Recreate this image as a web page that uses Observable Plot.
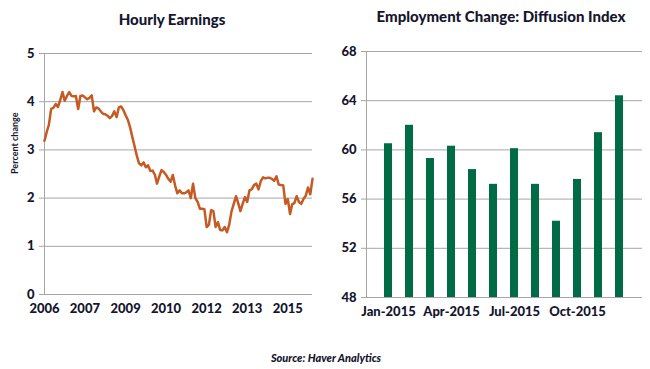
<!DOCTYPE html>
<html>
<head>
<meta charset="utf-8">
<script src="https://cdn.jsdelivr.net/npm/d3@7"></script>
<script src="https://cdn.jsdelivr.net/npm/@observablehq/plot@0.6"></script>
<style>
  body { margin: 0; background: #fff; }
  #root { position: relative; width: 650px; height: 369px; overflow: hidden; font-family: Lato, "Open Sans", sans-serif; color: #15152e; }
  .title { position: absolute; font-weight: 900; font-size: 15px; white-space: nowrap; transform: translate(-50%, -50%); }
  .panel { position: absolute; top: 30px; }
  .source { position: absolute; font-weight: 900; font-style: italic; font-size: 11px; white-space: nowrap; transform: translate(-50%, -50%); left: 326px; top: 357px; }
</style>
</head>
<body>
<div id="root">
  <div class="title" style="left:172px; top:19px;">Hourly Earnings</div>
  <div class="title" style="left:501px; top:16px;">Employment Change: Diffusion Index</div>
  <div class="panel" id="left" style="left:0px;"></div>
  <div class="panel" id="right" style="left:330px;"></div>
  <div class="source">Source: Haver Analytics</div>
</div>
<script>
// ---- Hourly Earnings: monthly % change, Jan 2006 .. Dec 2015 ----
const earningsStart = "2006-01-01";
const earningsValues = [
  3.19, 3.38, 3.52, 3.85, 3.87, 3.95, 3.89, 4.03, 4.20, 4.02, 4.12, 4.20,
  4.12, 4.11, 4.12, 3.85, 4.12, 4.13, 4.09, 4.05, 4.08, 4.13, 3.80, 3.88,
  3.86, 3.80, 3.75, 3.74, 3.71, 3.66, 3.70, 3.80, 3.68, 3.88, 3.90, 3.83,
  3.72, 3.62, 3.48, 3.27, 3.08, 2.88, 2.72, 2.68, 2.74, 2.64, 2.68, 2.56,
  2.57, 2.48, 2.30, 2.45, 2.58, 2.54, 2.48, 2.40, 2.34, 2.48, 2.26, 2.10,
  2.16, 2.10, 2.10, 2.12, 2.16, 2.00, 2.30, 2.00, 1.92, 1.78, 1.78, 1.77,
  1.40, 1.45, 1.75, 1.73, 1.40, 1.50, 1.34, 1.33, 1.40, 1.29, 1.45, 1.72,
  1.88, 2.04, 1.90, 1.73, 1.88, 2.02, 1.92, 2.16, 2.18, 2.27, 2.30, 2.18,
  2.35, 2.43, 2.41, 2.42, 2.42, 2.40, 2.36, 2.45, 2.28, 2.27, 2.26, 1.88,
  1.98, 1.67, 1.87, 1.90, 2.04, 1.92, 1.88, 1.98, 2.05, 2.22, 2.08, 2.40
];
const earningsTickDates = ["2006-01-01", "2007-07-01", "2009-01-01", "2010-07-01", "2012-01-01", "2013-07-01", "2015-01-01"];
const earningsTickLabels = ["2006", "2007", "2009", "2010", "2012", "2013", "2015"];
const earningsYTicks = [0, 1, 2, 3, 4, 5];

// ---- Employment Change: Diffusion Index, 2015 ----
const diffusionMonths = ["Jan-2015", "Feb-2015", "Mar-2015", "Apr-2015", "May-2015", "Jun-2015",
                         "Jul-2015", "Aug-2015", "Sep-2015", "Oct-2015", "Nov-2015", "Dec-2015"];
const diffusionValues = [60.5, 62.0, 59.3, 60.3, 58.4, 57.2, 60.1, 57.2, 54.2, 57.6, 61.4, 64.4];
const diffusionXTicks = ["Jan-2015", "Apr-2015", "Jul-2015", "Oct-2015"];
const diffusionYTicks = [48, 52, 56, 60, 64, 68];

const GRID = "#a6a6a6";
const TEXT = "#15152e";
const LINE = "#c55a22";
const BAR = "#006b45";

const start = new Date(earningsStart);
const months = d3.utcMonth.range(start, d3.utcMonth.offset(start, earningsValues.length));
const earnings = earningsValues.map((v, i) => ({date: months[i], value: v}));
const tickDates = earningsTickDates.map(d => new Date(d));
const labelOf = new Map(tickDates.map((d, i) => [+d, earningsTickLabels[i]]));

const baseStyle = {fontFamily: "Lato, 'Open Sans', sans-serif", fontWeight: "900", fontSize: "13px", color: TEXT, background: "transparent"};

const left = Plot.plot({
  width: 330, height: 300,
  marginLeft: 44, marginRight: 18, marginTop: 23, marginBottom: 36,
  style: baseStyle,
  x: {type: "utc", domain: [months[0], months[months.length - 1]]},
  y: {domain: [0, 5]},
  marks: [
    Plot.gridY(earningsYTicks, {stroke: GRID, strokeOpacity: 1}),
    Plot.ruleX([months[0]], {stroke: GRID}),
    Plot.axisY(earningsYTicks, {tickSize: 5, tickPadding: 5, stroke: GRID, fill: TEXT, label: null}),
    Plot.axisX(tickDates, {tickSize: 0, tickPadding: 9, tickFormat: d => labelOf.get(+d), fill: TEXT, label: null}),
    Plot.text(["Percent change"], {frameAnchor: "left", dx: -29, rotate: -90, fontSize: 9, fontWeight: "bold", fill: TEXT}),
    Plot.line(earnings, {x: "date", y: "value", stroke: LINE, strokeWidth: 2.5, strokeLinejoin: "round"})
  ]
});
document.getElementById("left").appendChild(left);

const diffusion = diffusionMonths.map((m, i) => ({month: m, value: diffusionValues[i]}));

const right = Plot.plot({
  width: 320, height: 300,
  marginLeft: 36, marginRight: 8, marginTop: 21, marginBottom: 33,
  style: baseStyle,
  x: {type: "band", domain: diffusionMonths, padding: 0.6, align: 0.5},
  y: {domain: [48, 68]},
  marks: [
    Plot.gridY(diffusionYTicks, {stroke: GRID, strokeOpacity: 1}),
    Plot.frame({anchor: "left", stroke: GRID}),
    Plot.axisY(diffusionYTicks, {tickSize: 5, tickPadding: 5, stroke: GRID, fill: TEXT, label: null}),
    Plot.axisX(diffusionXTicks, {tickSize: 0, tickPadding: 9, fill: TEXT, label: null}),
    Plot.barY(diffusion, {x: "month", y1: 48, y2: "value", fill: BAR})
  ]
});
document.getElementById("right").appendChild(right);
</script>
</body>
</html>
